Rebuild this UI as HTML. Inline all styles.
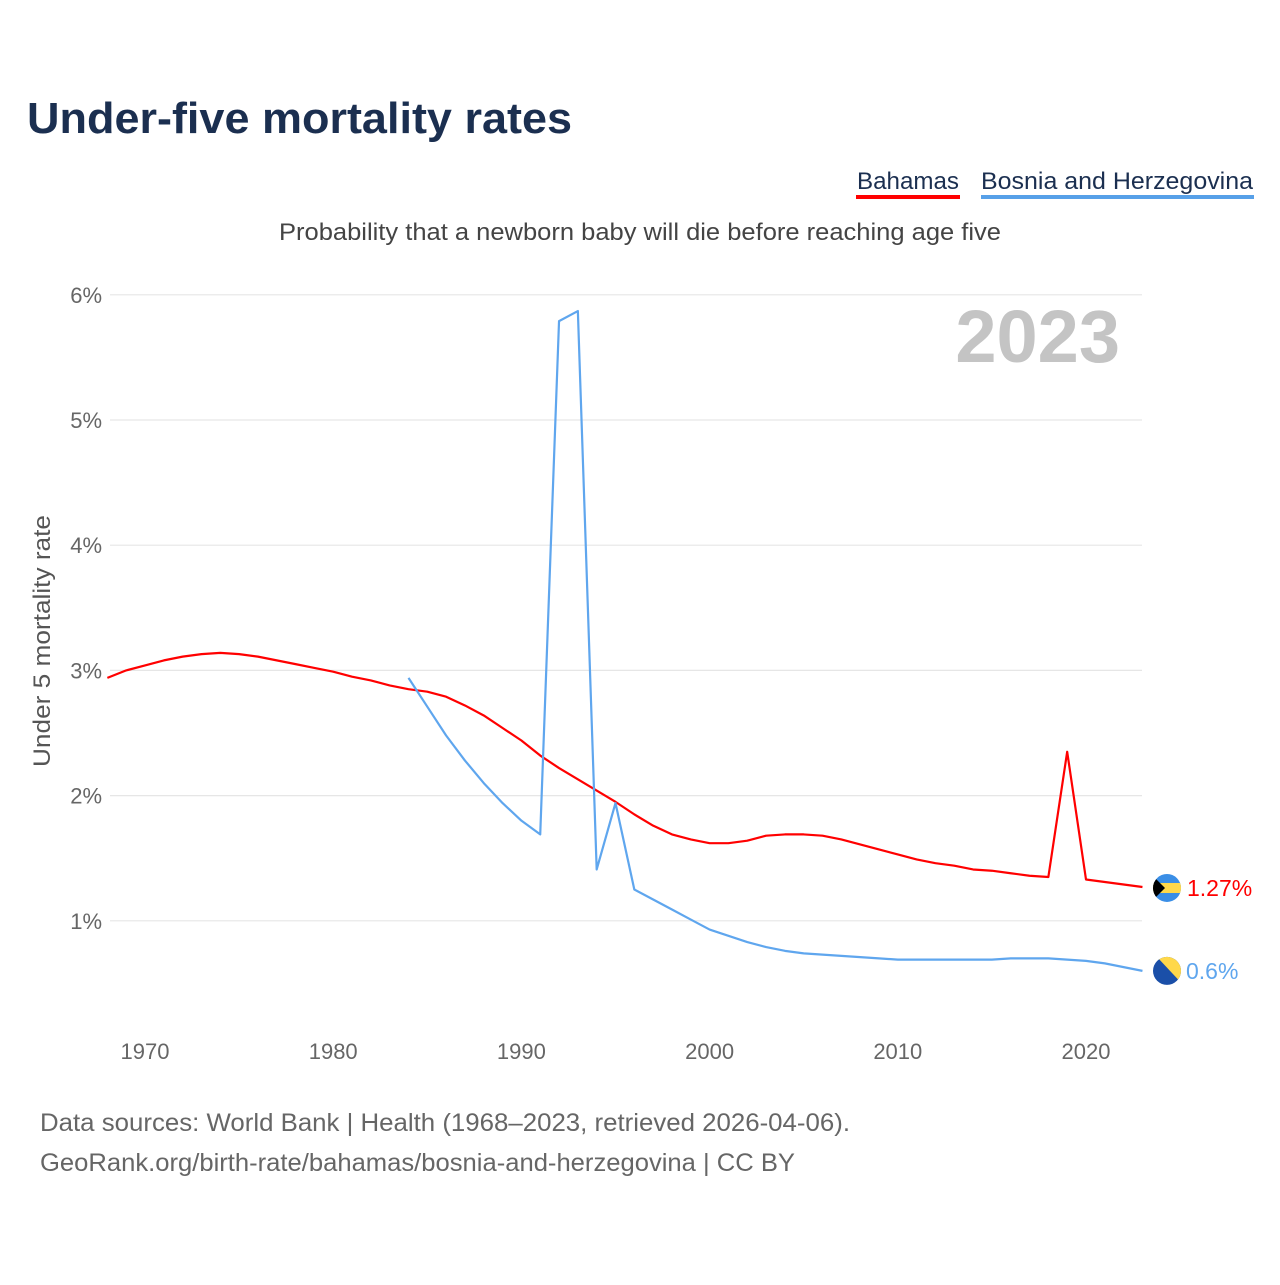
<!DOCTYPE html>
<html><head><meta charset="utf-8"><style>
body{margin:0;background:#fff;font-family:"Liberation Sans",sans-serif;}
svg text{font-family:"Liberation Sans",sans-serif;}
</style></head><body>
<svg id="c" width="1280" height="1280">
<text x="27" y="133" font-size="44" font-weight="bold" fill="#1b2f50" textLength="545" lengthAdjust="spacingAndGlyphs">Under-five mortality rates</text>
<g><text x="857" y="189" font-size="24" fill="#1b2f50" textLength="102" lengthAdjust="spacingAndGlyphs">Bahamas</text><rect x="856" y="195" width="104" height="4" fill="#ff0000"/></g>
<g><text x="981" y="189" font-size="24" fill="#1b2f50" textLength="272" lengthAdjust="spacingAndGlyphs">Bosnia and Herzegovina</text><rect x="981" y="195" width="273" height="4" fill="#57a0e8"/></g>
<text x="279" y="240" font-size="24" fill="#444" textLength="722" lengthAdjust="spacingAndGlyphs">Probability that a newborn baby will die before reaching age five</text>
<text x="1120" y="362" font-size="74" font-weight="bold" fill="#c4c4c4" text-anchor="end">2023</text>
<text transform="translate(50,641) rotate(-90)" x="-126" font-size="24" fill="#555" textLength="252" lengthAdjust="spacingAndGlyphs">Under 5 mortality rate</text>
<g id="grid"></g><g id="series"></g>
<text x="40" y="1131" font-size="25" fill="#666" textLength="810" lengthAdjust="spacingAndGlyphs">Data sources: World Bank | Health (1968–2023, retrieved 2026-04-06).</text>
<text x="40" y="1171" font-size="25" fill="#666" textLength="755" lengthAdjust="spacingAndGlyphs">GeoRank.org/birth-rate/bahamas/bosnia-and-herzegovina | CC BY</text>
</svg>
<script>
const yTicks=[1,2,3,4,5,6];
const xTicks=[1970,1980,1990,2000,2010,2020];
const bahamasStart=1968;
const bahamas=[2.94,3.00,3.04,3.08,3.11,3.13,3.14,3.13,3.11,3.08,3.05,3.02,2.99,2.95,2.92,2.88,2.85,2.83,2.79,2.72,2.64,2.54,2.44,2.32,2.22,2.13,2.04,1.95,1.85,1.76,1.69,1.65,1.62,1.62,1.64,1.68,1.69,1.69,1.68,1.65,1.61,1.57,1.53,1.49,1.46,1.44,1.41,1.40,1.38,1.36,1.35,2.35,1.33,1.31,1.29,1.27];
const bosniaStart=1984;
const bosnia=[2.94,2.71,2.48,2.28,2.10,1.94,1.80,1.69,5.79,5.87,1.41,1.94,1.25,1.17,1.09,1.01,0.93,0.88,0.83,0.79,0.76,0.74,0.73,0.72,0.71,0.70,0.69,0.69,0.69,0.69,0.69,0.69,0.70,0.70,0.70,0.69,0.68,0.66,0.63,0.60];
const NS='http://www.w3.org/2000/svg';
const X=y=>145+(y-1970)*18.82;
const Y=v=>1046-v*125.2;
function mk(t,a,p){const e=document.createElementNS(NS,t);for(const k in a)e.setAttribute(k,a[k]);p.appendChild(e);return e;}
const g=document.getElementById('grid'),s=document.getElementById('series');
yTicks.forEach(v=>{
 const l=mk('line',{x1:110,x2:1142,y1:Y(v),y2:Y(v),stroke:'#e6e6e6','stroke-width':1.2},g);
 
 
 const t=mk('text',{x:102,y:Y(v)+8,'font-size':22,fill:'#666','text-anchor':'end'},g);t.textContent=v+'%';
 
 
});
xTicks.forEach(v=>{
 const t=mk('text',{x:X(v),y:1059,'font-size':22,fill:'#666','text-anchor':'middle'},g);t.textContent=v;
 
 
});
function line(data,start,color,name){
 const p=mk('polyline',{points:data.map((v,i)=>X(start+i)+','+Y(v)).join(' '),fill:'none',stroke:color,'stroke-width':2.2,'stroke-linejoin':'round'},s);
 
 
}
line(bahamas,bahamasStart,'#ff0000','bahamas-line');
line(bosnia,bosniaStart,'#5fa6ee','bosnia-line');
const lb=bahamas[bahamas.length-1],lo=bosnia[bosnia.length-1];
const fb=mk('g',{},s);


const cy1=Y(lb)+1;
mk('clipPath',{id:'cb'},fb);mk('circle',{cx:1167,cy:cy1,r:14},document.getElementById('cb'));
const gb=mk('g',{'clip-path':'url(#cb)'},fb);
mk('rect',{x:1150,y:cy1-15,width:34,height:30,fill:'#3a8ee6'},gb);
mk('rect',{x:1150,y:cy1-5,width:34,height:10,fill:'#ffd84a'},gb);
mk('polygon',{points:`1150,${cy1-15} 1165,${cy1} 1150,${cy1+15}`,fill:'#000'},gb);
const t1=mk('text',{x:1187,y:Y(lb)+9,'font-size':23,fill:'#ff0000'},s);t1.textContent=lb+'%';


const fo=mk('g',{},s);


const cy2=Y(lo);
mk('clipPath',{id:'co'},fo);mk('circle',{cx:1167,cy:cy2,r:14},document.getElementById('co'));
const go=mk('g',{'clip-path':'url(#co)'},fo);
mk('rect',{x:1150,y:cy2-15,width:34,height:30,fill:'#1a4fa8'},go);
mk('polygon',{points:`1156,${cy2-15} 1184,${cy2-15} 1184,${cy2+15}`,fill:'#ffd84a'},go);
const t2=mk('text',{x:1186,y:Y(lo)+8,'font-size':23,fill:'#5fa6ee'},s);t2.textContent=lo+'%';


</script>
</body></html>
